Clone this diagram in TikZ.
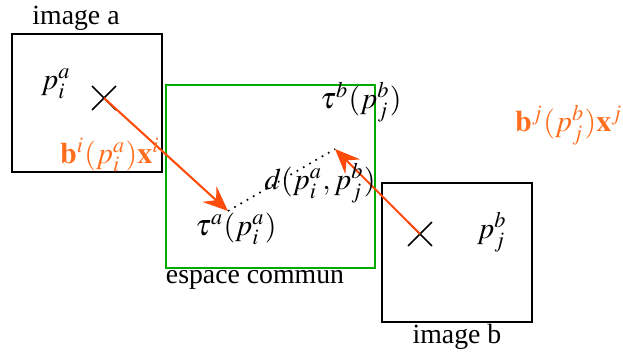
\documentclass[tikz,border=0pt]{standalone}
\usepackage{mathptmx}
\usepackage{fontspec}
\setmainfont{Liberation Serif}
\usetikzlibrary{arrows.meta,shapes.misc}
\definecolor{arrowred}{RGB}{255,75,10}
\definecolor{labelorange}{RGB}{255,110,30}
\definecolor{commongreen}{RGB}{0,170,0}
\tikzset{every picture/.style={line width=0.5pt}}

\begin{document}
\begin{tikzpicture}[x=0.36pt, y=-0.36pt,
    >={Stealth[length=9pt,width=7.5pt,inset=3.2pt]},
    every node/.style={font=\normalsize, inner sep=0pt},
    maths/.style={font=\fontsize{10.8}{13}\selectfont},
    imagebox/.style={draw, black, line width=0.7pt},
    mapping/.style={->, arrowred, line width=0.75pt}]
        \useasboundingbox (0,0) rectangle (623,353);
        % les deux images et l'espace commun
        \draw[imagebox] (12,34) rectangle (162,172);
        \draw[imagebox] (382,183) rectangle (532,322);
        \draw[commongreen, line width=0.7pt] (166,85) rectangle (375,268);
        \node (nomA) at (76,18) {image a};
        \node (nomB) at (457,337) {image b};
        \node (commun) at (255,280) {espace commun};
        % points
        \node[draw, cross out, minimum size=8pt, line width=0.6pt] (crossA) at (104,98) {};
        \node[draw, cross out, minimum size=8pt, line width=0.6pt] (crossB) at (420,234) {};
        \node[maths] (pA) at (56,84) {$p_i^a$};
        \node[maths] (pB) at (492,232) {$p_j^b$};
        \coordinate (tauA) at (228,211);
        \coordinate (tauB) at (335,149);
        \node[maths] (labtauA) at (236,229) {$\tau^a(p_i^a)$};
        \node[maths] (labtauB) at (361,102) {$\tau^b(p_j^b)$};
        % projections
        \draw[mapping] (crossA.center) -- (tauA);
        \draw[mapping] (crossB.center) -- (tauB);
        \draw[dotted, line width=0.6pt] (tauA) -- (tauB);
        \node[maths] (dist) at (320,183) {$d(p_i^a,p_j^b)$};
        \node[maths, text=labelorange] (bA) at (110,155) {$\mathbf{b}^i(p_i^a)\mathbf{x}^i$};
        \node[maths, text=labelorange] (bB) at (569,125) {$\mathbf{b}^j(p_j^b)\mathbf{x}^j$};
    \end{tikzpicture}
\end{document}
